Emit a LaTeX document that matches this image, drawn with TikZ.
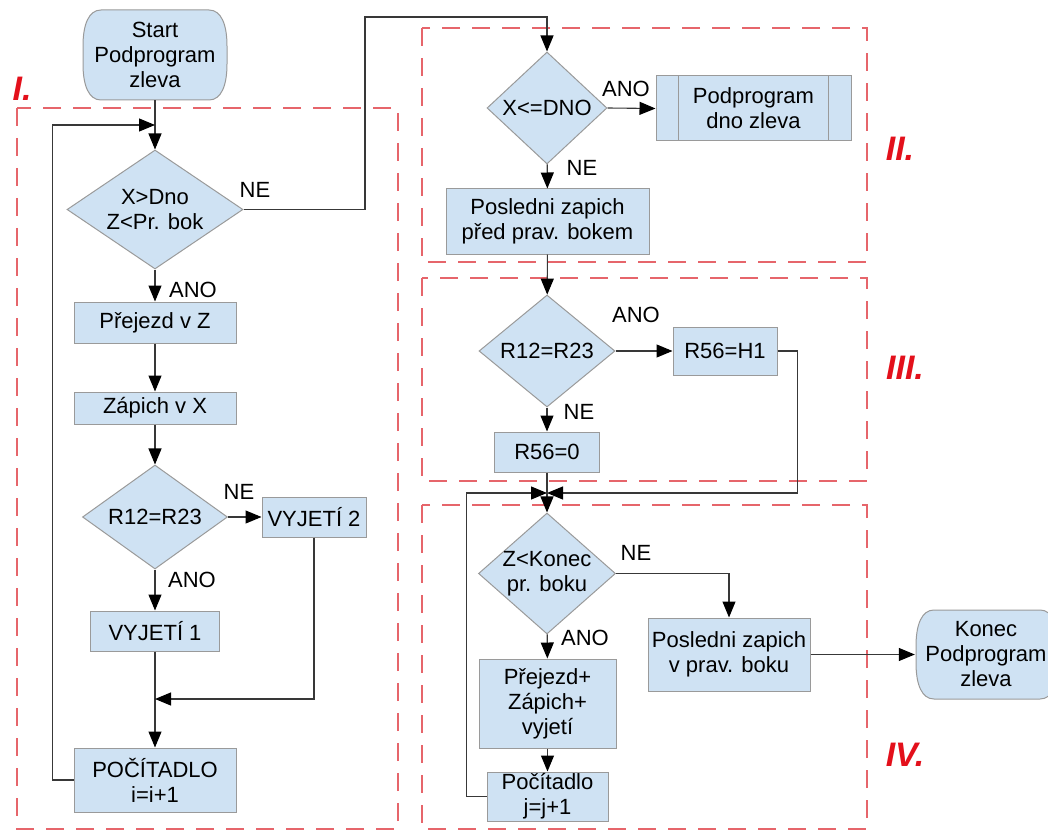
\documentclass[tikz,border=0pt]{standalone}
\usepackage{fontspec}
\setmainfont{Liberation Sans}
\usetikzlibrary{shapes.geometric,arrows.meta}

\definecolor{boxfill}{HTML}{CFE2F3}
\definecolor{boxline}{HTML}{9A9A9A}
\definecolor{wire}{HTML}{383838}
\definecolor{zone}{HTML}{E6656B}
\definecolor{zonelabel}{HTML}{E3101B}

% terminal outline: centre x, centre y, half width, half height
\newcommand\termoutline[4]{%
  \filldraw[draw=boxline, fill=boxfill, line width=1pt]
    ({#1-#3+18},{#2-#4}) -- ({#1+#3-18},{#2-#4})
    .. controls ({#1+#3-6},{#2-#4}) and ({#1+#3},{#2-#4+14}) .. ({#1+#3},{#2-#4+36})
    -- ({#1+#3},{#2+#4-36})
    .. controls ({#1+#3},{#2+#4-14}) and ({#1+#3-6},{#2+#4}) .. ({#1+#3-18},{#2+#4})
    -- ({#1-#3+18},{#2+#4})
    .. controls ({#1-#3+6},{#2+#4}) and ({#1-#3},{#2+#4-14}) .. ({#1-#3},{#2+#4-36})
    -- ({#1-#3},{#2-#4+36})
    .. controls ({#1-#3},{#2-#4+14}) and ({#1-#3+6},{#2-#4}) .. cycle;}

\begin{document}
\begin{tikzpicture}[x=1pt, y=-1pt,
  every node/.style={font=\fontsize{22}{25}\selectfont, inner sep=0pt},
  proc/.style={rectangle, draw=boxline, fill=boxfill, line width=1pt, align=center},
  dec/.style={diamond, draw=boxline, fill=boxfill, line width=1pt},
  termtext/.style={rectangle, align=center},
  wirestyle/.style={draw=wire, line width=1.1pt},
  arr/.style={wirestyle, -{Triangle[length=16pt, width=13pt, color=black]}},
  zonebox/.style={draw=zone, line width=1.5pt, dash pattern=on 18pt off 12pt},
  zonetag/.style={text=zonelabel, font=\fontsize{34}{38}\selectfont\bfseries\itshape},
  tag/.style={text=black}
]
\useasboundingbox (0,0) rectangle (1048,834);

% dashed zones
\draw[zonebox] (17,108) rectangle (398,829);
\draw[zonebox] (422,28) rectangle (867,262);
\draw[zonebox] (422,278) rectangle (867,481);
\draw[zonebox] (422,505) rectangle (867,829);
\node[zonetag] (zI) at (22,89) {I.};
\node[zonetag] (zII) at (900,149) {II.};
\node[zonetag] (zIII) at (905,368) {III.};
\node[zonetag] (zIV) at (905,755) {IV.};

% left column
\termoutline{155}{55}{72}{45}
\node[termtext, minimum width=144pt, minimum height=90pt] (start) at (155,55) {Start\\Podprogram\\zleva};
\node[dec, minimum width=176pt, minimum height=119pt,
      label={[align=center]center:X>Dno\\Z<Pr. bok}] (d1) at (155,209.5) {};
\node[proc, minimum width=162pt, minimum height=41pt] (pz) at (155,322.5) {Přejezd v Z};
\node[proc, minimum width=162pt, minimum height=32pt] (zx) at (155,408) {Zápich v X};
\node[dec, minimum width=145pt, minimum height=104pt,
      label={center:R12=R23}] (d3) at (155,517) {};
\node[proc, minimum width=104pt, minimum height=40pt] (v2) at (314,517) {VYJETÍ 2};
\node[proc, minimum width=129pt, minimum height=40pt] (v1) at (155,631) {VYJETÍ 1};
\node[proc, minimum width=162pt, minimum height=64pt] (poc) at (155,780) {POČÍTADLO\\i=i+1};

% right column
\node[dec, minimum width=120pt, minimum height=112pt,
      label={center:X<=DNO}] (d2) at (547,108) {};
\node[proc, minimum width=195pt, minimum height=65pt] (pp) at (753.5,108.5) {Podprogram\\dno zleva};
\draw[draw=boxline, line width=1pt] ([xshift=23pt]pp.north west) -- ([xshift=23pt]pp.south west);
\draw[draw=boxline, line width=1pt] ([xshift=-23pt]pp.north east) -- ([xshift=-23pt]pp.south east);
\node[proc, minimum width=203pt, minimum height=65pt] (pz2) at (547.5,221.5) {Posledni zapich\\před prav. bokem};
\node[dec, minimum width=136pt, minimum height=112pt,
      label={center:R12=R23}] (d4) at (547,351) {};
\node[proc, minimum width=104pt, minimum height=48pt] (h1) at (725,351) {R56=H1};
\node[proc, minimum width=105pt, minimum height=40pt] (r0) at (547,452) {R56=0};
\node[dec, minimum width=137pt, minimum height=121pt,
      label={[align=center]center:Z<Konec\\pr. boku}] (d5) at (547,573.5) {};
\node[proc, minimum width=162pt, minimum height=73pt] (pv) at (729,654.5) {Posledni zapich\\v prav. boku};
\termoutline{987}{654.5}{71}{44.5}
\node[termtext, minimum width=142pt, minimum height=89pt] (konec) at (986,654.5) {Konec\\Podprogram\\zleva};
\node[proc, minimum width=137pt, minimum height=89pt] (pzv) at (547.5,703.5) {Přejezd+\\Zápich+\\vyjetí};
\node[proc, minimum width=121pt, minimum height=49pt] (pj) at (547.5,796.5) {Počítadlo\\j=j+1};

% branch labels
\node[tag] (ne1) at (255,190) {NE};
\node[tag] (ano1) at (193,290) {ANO};
\node[tag] (ne3) at (239,492) {NE};
\node[tag] (ano3) at (192,580) {ANO};
\node[tag] (ano2) at (626,89) {ANO};
\node[tag] (ne2) at (582,168) {NE};
\node[tag] (ano4) at (636,315) {ANO};
\node[tag] (ne4) at (579,412) {NE};
\node[tag] (ne5) at (636,553) {NE};
\node[tag] (ano5) at (585,638) {ANO};

% junction points
\coordinate (loopin) at (155,125);
\coordinate (over) at (365,17);
\coordinate (join1) at (155,699);
\coordinate (join2) at (547,493);

% connectors, left column
\draw[arr] (start) -- (d1);
\draw[arr] (poc.west) -- ++(-21,0) |- (loopin);
\draw[arr] (d1.east) -| (over) -| (d2.north);
\draw[arr] (d1) -- (pz);
\draw[arr] (pz) -- (zx);
\draw[arr] (zx) -- (d3);
\draw[arr] (d3.east) -- (v2.west);
\draw[arr] (d3) -- (v1);
\draw[arr] (v1) -- (poc);
\draw[arr] (v2.south) |- (join1);

% connectors, right column
\draw[arr] (d2.east) -- (pp.west);
\draw[arr] (d2) -- (pz2);
\draw[arr] (pz2) -- (d4);
\draw[arr] (d4.east) -- (h1.west);
\draw[arr] (d4) -- (r0);
\draw[arr] (h1.east) -- ++(20,0) |- (join2);
\draw[arr] (pj.west) -- ++(-20,0) |- (join2);
\draw[arr] (r0) -- (d5);
\draw[arr] (d5.east) -| (pv.north);
\draw[arr] (pv.east) -- (konec.west);
\draw[arr] (d5) -- (pzv);
\draw[arr] (pzv) -- (pj);
\end{tikzpicture}
\end{document}
